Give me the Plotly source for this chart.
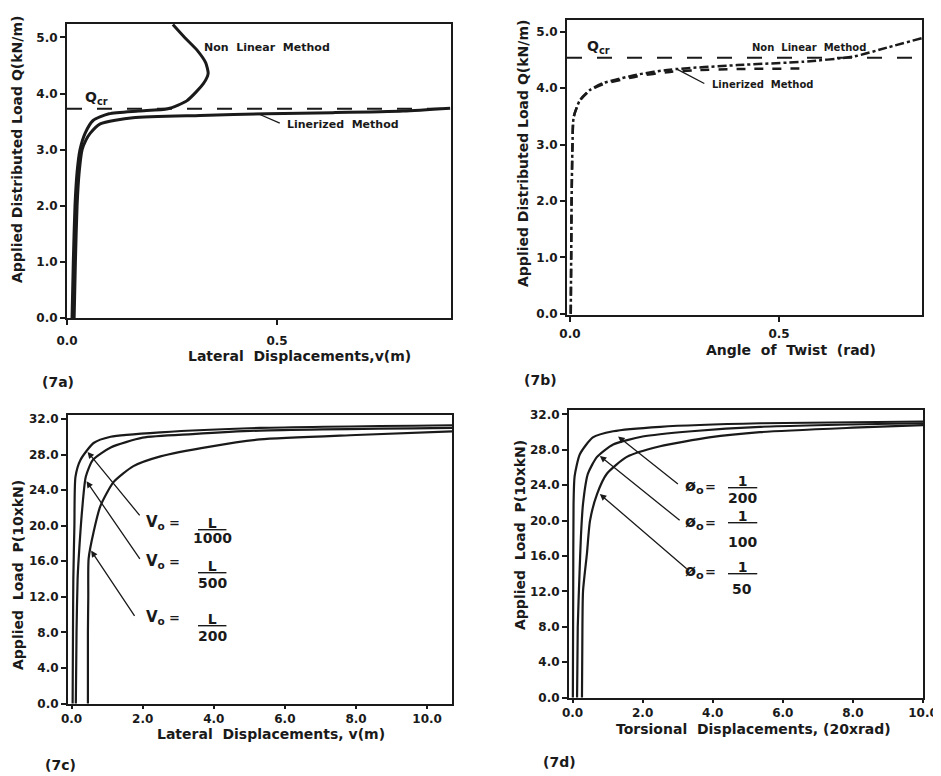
import plotly.graph_objects as go

W, H = 941, 776
OFF = 8                      # page body margin of the browser
FW, FH = W - OFF, H - OFF    # figure size so that it fits in the window

# ---------------- data ----------------
# (7a) Lateral displacement v (m) vs distributed load Q (kN/m)
a_nl_v = [0.012, 0.015, 0.019, 0.024, 0.031, 0.043, 0.062, 0.10, 0.17, 0.24, 0.285, 0.325, 0.336, 0.33, 0.31, 0.28, 0.252]
a_nl_q = [0.0, 1.0, 2.0, 2.6, 3.0, 3.29, 3.52, 3.64, 3.69, 3.73, 3.87, 4.18, 4.36, 4.55, 4.77, 5.0, 5.23]
a_lin_v = [0.017, 0.020, 0.024, 0.029, 0.036, 0.045, 0.055, 0.079, 0.157, 0.317, 0.476, 0.633, 0.80, 0.912]
a_lin_q = [0.0, 1.0, 2.0, 2.6, 3.0, 3.17, 3.29, 3.46, 3.57, 3.61, 3.64, 3.66, 3.69, 3.74]
a_qcr = 3.73

# (7b) Angle of twist (rad) vs Q
b_nl_t = [0.002, 0.003, 0.004, 0.006, 0.009, 0.024, 0.048, 0.079, 0.16, 0.239, 0.40, 0.557, 0.677, 0.758, 0.842]
b_nl_q = [0.0, 1.0, 2.0, 2.96, 3.49, 3.79, 3.97, 4.09, 4.24, 4.33, 4.41, 4.47, 4.56, 4.72, 4.89]
b_lin_t = [0.002, 0.003, 0.004, 0.006, 0.009, 0.024, 0.048, 0.079, 0.16, 0.239, 0.30, 0.40, 0.557]
b_lin_q = [0.0, 1.0, 2.0, 2.96, 3.49, 3.78, 3.96, 4.07, 4.21, 4.29, 4.32, 4.34, 4.35]
b_qcr = 4.54

# (7c) Lateral displacement v (m) vs load P (10 x kN)
c1_v = [0.03, 0.04, 0.05, 0.08, 0.11, 0.25, 0.62, 1.1, 2.5, 5.3, 10.7]
c1_p = [0.0, 8.0, 14.0, 20.0, 25.5, 27.4, 29.3, 30.0, 30.5, 31.0, 31.3]
c2_v = [0.12, 0.14, 0.17, 0.20, 0.30, 0.40, 0.60, 1.1, 2.0, 3.4, 5.3, 10.7]
c2_p = [0.0, 8.0, 14.0, 16.3, 21.9, 25.5, 27.4, 28.8, 29.9, 30.3, 30.7, 31.0]
c3_v = [0.46, 0.46, 0.47, 0.48, 0.62, 0.81, 1.18, 1.74, 2.5, 3.9, 5.3, 8.0, 10.7]
c3_p = [0.0, 8.0, 12.0, 16.3, 19.3, 22.2, 24.9, 26.7, 27.8, 28.9, 29.7, 30.2, 30.6]
c_labels = ["1000", "500", "200"]

# (7d) Torsional displacement (20 x rad) vs P
d1_t = [0.01, 0.02, 0.03, 0.06, 0.21, 0.58, 1.16, 2.5, 5.35, 10.0]
d1_p = [0.0, 12.0, 21.9, 25.0, 27.5, 29.4, 30.1, 30.6, 31.0, 31.2]
d2_t = [0.13, 0.15, 0.20, 0.24, 0.30, 0.44, 0.70, 1.16, 2.0, 3.4, 5.35, 10.0]
d2_p = [0.0, 8.0, 14.0, 18.2, 21.9, 25.3, 27.2, 28.6, 29.5, 30.1, 30.6, 31.0]
d3_t = [0.27, 0.28, 0.30, 0.41, 0.50, 0.70, 0.98, 1.55, 2.5, 3.9, 5.35, 8.0, 10.0]
d3_p = [0.0, 6.0, 12.0, 16.2, 20.0, 23.0, 25.3, 27.2, 28.4, 29.4, 30.0, 30.5, 30.8]
d_labels = ["200", "100", "50"]

q_ticks = [0.0, 1.0, 2.0, 3.0, 4.0, 5.0]
ab_xticks = [0.0, 0.5]
p_ticks = [0, 4, 8, 12, 16, 20, 24, 28, 32]
cd_xticks = [0, 2, 4, 6, 8, 10]

FONT = "DejaVu Sans"
BLK = "#1a1a1a"

fig = go.Figure()

def line(x, y, ax, width=2.5, dash="solid"):
    fig.add_trace(go.Scatter(x=x, y=y, xaxis="x" + ax, yaxis="y" + ax, mode="lines",
                             line=dict(color=BLK, width=width, dash=dash, shape="spline", smoothing=0.6),
                             showlegend=False, hoverinfo="skip"))

# 7a
line(a_nl_v, a_nl_q, "", 3)
line(a_lin_v, a_lin_q, "", 3)
line([0, 0.914], [a_qcr, a_qcr], "", 2, "longdash")
# 7b
line(b_nl_t, b_nl_q, "2", 2.5, "dashdot")
line(b_lin_t, b_lin_q, "2", 2.5, "dash")
line([-0.007, 0.842], [b_qcr, b_qcr], "2", 2, "longdash")
# 7c
for xv, yv in [(c1_v, c1_p), (c2_v, c2_p), (c3_v, c3_p)]:
    line(xv, yv, "3", 2.2)
# 7d
for xv, yv in [(d1_t, d1_p), (d2_t, d2_p), (d3_t, d3_p)]:
    line(xv, yv, "4", 2.2)

def dom(p0, p1, horiz):
    if horiz:
        return [(p0 - OFF) / FW, (p1 - OFF) / FW]
    return [1 - (p1 - OFF) / FH, 1 - (p0 - OFF) / FH]

tickfont = dict(family=FONT, size=12, color=BLK, weight="bold")
common = dict(showline=True, linecolor=BLK, linewidth=2, mirror=True, ticks="outside",
              ticklen=5, tickwidth=1.5, tickcolor=BLK, showgrid=False, zeroline=False,
              tickfont=tickfont, fixedrange=True, automargin=False)
xcommon_a = dict(common, ticklen=5, ticklabelstandoff=6)
xcommon_b = dict(common, ticklen=5, ticklabelstandoff=2)
xcommon_cd = dict(common, ticklen=3)

fig.update_layout(
    width=FW, height=FH, margin=dict(l=0, r=0, t=0, b=0, autoexpand=False),
    paper_bgcolor="white", plot_bgcolor="white",
    xaxis=dict(domain=dom(67, 451, True), range=[0, 0.914], anchor="y",
               tickvals=ab_xticks, ticktext=[f"{v:.1f}" for v in ab_xticks], **xcommon_a),
    yaxis=dict(domain=dom(24, 318, False), range=[0, 5.24], anchor="x",
               tickvals=q_ticks, ticktext=[f"{v:.1f}" for v in q_ticks], **common),
    xaxis2=dict(domain=dom(567, 922, True), range=[-0.007, 0.842], anchor="y2",
                tickvals=ab_xticks, ticktext=[f"{v:.1f}" for v in ab_xticks], **xcommon_b),
    yaxis2=dict(domain=dom(20, 315, False), range=[-0.02, 5.21], anchor="x2",
                tickvals=q_ticks, ticktext=[f"{v:.1f}" for v in q_ticks], **common),
    xaxis3=dict(domain=dom(68, 452, True), range=[-0.1, 10.7], anchor="y3",
                tickvals=cd_xticks, ticktext=[f"{v:.1f}" for v in cd_xticks], **xcommon_cd),
    yaxis3=dict(domain=dom(415, 704, False), range=[-0.05, 32.45], anchor="x3",
                tickvals=p_ticks, ticktext=[f"{v:.1f}" for v in p_ticks], **common),
    xaxis4=dict(domain=dom(569, 923, True), range=[-0.1, 10.0], anchor="y4",
                tickvals=cd_xticks, ticktext=[f"{v:.1f}" for v in cd_xticks], **xcommon_cd),
    yaxis4=dict(domain=dom(410, 698, False), range=[-0.05, 32.5], anchor="x4",
                tickvals=p_ticks, ticktext=[f"{v:.1f}" for v in p_ticks], **common),
)

ann = []

def ptext(px, py, text, size=14, angle=0, xanchor="center"):
    ann.append(dict(x=(px - OFF) / FW, y=1 - (py - OFF) / FH, xref="paper", yref="paper", text=text,
                    showarrow=False, textangle=angle, xanchor=xanchor, yanchor="middle",
                    font=dict(family=FONT, size=size, color=BLK, weight="bold")))

# axis titles and panel labels
ptext(299, 356, "Lateral  Displacements,v(m)")
ptext(17, 150, "Applied Distributed Load Q(kN/m)", angle=-90)
ptext(791, 350, "Angle  of  Twist  (rad)")
ptext(523, 154, "Applied Distributed Load Q(kN/m)", angle=-90)
ptext(271, 734, "Lateral  Displacements, v(m)")
ptext(18, 575, "Applied  Load  P(10xkN)", angle=-90)
ptext(753, 729, "Torsional  Displacements, (20xrad)")
ptext(520, 535, "Applied  Load  P(10xkN)", angle=-90)
ptext(58, 382, "(7a)")
ptext(540, 380, "(7b)")
ptext(60, 765, "(7c)")
ptext(559, 762, "(7d)")

def dtext(ax, x, y, text, size=11, xanchor="center"):
    ann.append(dict(x=x, y=y, xref="x" + ax, yref="y" + ax, text=text, showarrow=False,
                    xanchor=xanchor, yanchor="middle",
                    font=dict(family=FONT, size=size, color=BLK, weight="bold")))

def arrow(ax, tip, tail, head=2):
    ann.append(dict(x=tip[0], y=tip[1], ax=tail[0], ay=tail[1], xref="x" + ax, yref="y" + ax,
                    axref="x" + ax, ayref="y" + ax, text="", showarrow=True, arrowhead=head,
                    arrowsize=1, arrowwidth=1.3, arrowcolor=BLK, standoff=0, startstandoff=0))

# 7a texts
dtext("", 0.476, 4.82, "Non  Linear  Method", 11)
dtext("", 0.52, 3.45, "Linerized  Method", 11, "left")
arrow("", (0.455, 3.64), (0.51, 3.46), 0)
dtext("", 0.038, 3.93, "Q<sub>cr</sub>", 14, "left")
# 7b texts
dtext("2", 0.572, 4.73, "Non  Linear  Method", 10)
dtext("2", 0.335, 4.06, "Linerized  Method", 10, "left")
arrow("2", (0.258, 4.33), (0.325, 4.07), 0)
dtext("2", 0.036, 4.73, "Q<sub>cr</sub>", 14, "left")

# 7c labels
c_tips = [(0.45, 28.3), (0.42, 25.0), (0.55, 17.2)]
c_tails = [(1.95, 21.0), (1.95, 16.1), (1.8, 9.7)]
c_ys = [20.4, 16.0, 9.7]
c_fr = [(20.3, 18.6), (15.5, 13.6), (9.5, 7.6)]
for tip, tail, yv, fr, lab in zip(c_tips, c_tails, c_ys, c_fr, c_labels):
    arrow("3", tip, tail)
    dtext("3", 2.05, yv, "V<sub>o</sub>", 15, "left")
    dtext("3", 2.9, yv, "=", 13)
    dtext("3", 3.95, fr[0], "<u>\u00a0\u00a0L\u00a0\u00a0</u>", 14)
    dtext("3", 3.95, fr[1], lab, 14)

# 7d labels
d_tips = [(1.3, 29.5), (0.78, 27.3), (0.78, 23.0)]
d_tails = [(3.05, 24.0), (3.1, 19.9), (3.3, 14.4)]
d_ys = [23.8, 19.8, 14.2]
d_fr = [(24.5, 22.6), (20.5, 17.6), (14.8, 12.3)]
for tip, tail, yv, fr, lab in zip(d_tips, d_tails, d_ys, d_fr, d_labels):
    arrow("4", tip, tail)
    dtext("4", 3.15, yv, "ø<sub>o</sub>", 16, "left")
    dtext("4", 3.95, yv, "=", 13)
    dtext("4", 4.84, fr[0], "<u>\u00a0\u00a01\u00a0\u00a0</u>", 14)
    dtext("4", 4.84, fr[1], lab, 14)

fig.update_layout(annotations=ann)
fig.write_html("out.html")
